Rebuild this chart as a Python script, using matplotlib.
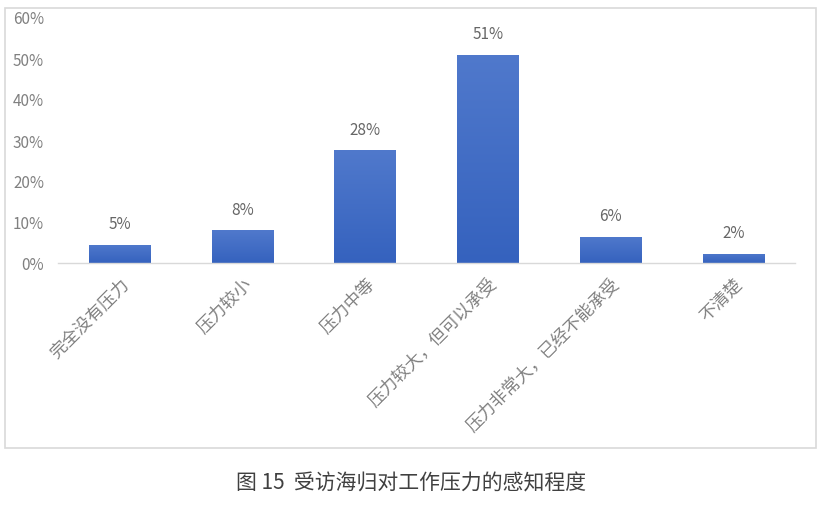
import matplotlib.pyplot as plt
import numpy as np
from matplotlib.colors import LinearSegmentedColormap
from matplotlib.patches import Rectangle

plt.rcParams['font.family'] = ['Noto Sans CJK SC', 'DejaVu Sans']

categories = ['完全没有压力', '压力较小', '压力中等', '压力较大，但可以承受',
              '压力非常大，已经不能承受', '不清楚']
values = [4.5, 8.0, 27.5, 50.8, 6.4, 2.2]
value_labels = ['5%', '8%', '28%', '51%', '6%', '2%']
yticks = [0, 10, 20, 30, 40, 50, 60]
ytick_labels = ['0%', '10%', '20%', '30%', '40%', '50%', '60%']
caption = '图 15  受访海归对工作压力的感知程度'

fig = plt.figure(figsize=(8.29, 5.06), dpi=100)

# outer frame of the chart area
fig.patches.append(Rectangle((5 / 829, 1 - 449 / 506), 811 / 829, 440 / 506,
                             transform=fig.transFigure, fill=False,
                             edgecolor='#d9d9d9', linewidth=1.2))

ax = fig.add_axes([58 / 829, 1 - 264 / 506, 737 / 829, 246 / 506])
x = np.arange(len(categories))
bars = ax.bar(x, values, width=0.5, color='#4472c4')

# vertical gradient on each bar
cmap = LinearSegmentedColormap.from_list('g', ['#3562be', '#5079cc'])
grad = np.linspace(0, 1, 256).reshape(-1, 1)
for b in bars:
    b.set_facecolor('none')
    bx, by = b.get_x(), b.get_y()
    w, h = b.get_width(), b.get_height()
    im = ax.imshow(grad, cmap=cmap, aspect='auto', origin='lower',
                   extent=[bx, bx + w, by, by + h], zorder=2)
    im.set_clip_path(b)

for xi, v, lab in zip(x, values, value_labels):
    ax.annotate(lab, (xi, v), xytext=(0, 9), textcoords='offset points',
                ha='center', va='bottom', fontsize=11, color='#666666')

ax.set_xlim(-0.5, len(categories) - 0.5)
ax.set_ylim(0, 60)
ax.set_yticks(yticks)
ax.set_yticklabels(ytick_labels, fontsize=11, color='#808080')
ax.set_xticks(x)
ax.set_xticklabels(categories, rotation=45, ha='right', rotation_mode='anchor',
                   fontsize=12.5, color='#808080')
ax.tick_params(axis='both', length=0)
ax.tick_params(axis='y', pad=10)
ax.tick_params(axis='x', pad=8)
for s in ['top', 'right', 'left']:
    ax.spines[s].set_visible(False)
ax.spines['bottom'].set_color('#d9d9d9')
ax.spines['bottom'].set_linewidth(1.0)

fig.text(411 / 829, 1 - 483 / 506, caption, ha='center', va='center',
         fontsize=15, color='#404040')

fig.savefig('out.png', dpi=100)
